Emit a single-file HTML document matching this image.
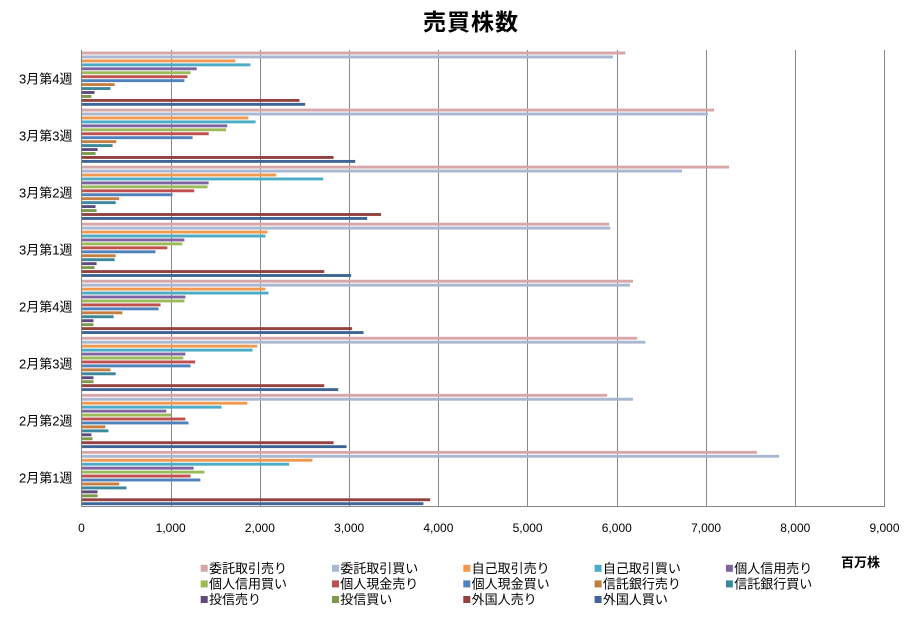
<!DOCTYPE html>
<html><head><meta charset="utf-8"><style>
html,body{margin:0;padding:0;background:#fff;}
svg{display:block;}
text{font-family:"Liberation Sans","Noto Sans CJK JP",sans-serif;fill:#000;}
.s0{fill:#D7A6A8}.s1{fill:#AAB7D1}.s2{fill:#F0994F}.s3{fill:#4BACC6}.s4{fill:#8064A2}.s5{fill:#9BBB59}.s6{fill:#C0504D}
.s7{fill:#4F81BD}.s8{fill:#C47F40}.s9{fill:#3B879C}.s10{fill:#5F4A7E}.s11{fill:#7C9A4A}.s12{fill:#944240}.s13{fill:#3E6596}
.g line{stroke:#888;stroke-width:1}
</style></head><body>
<svg width="924" height="621" viewBox="0 0 924 621" xmlns="http://www.w3.org/2000/svg">
<rect width="924" height="621" fill="#fff"/>
<text x="471" y="30" text-anchor="middle" font-size="23" font-weight="bold" letter-spacing="1">売買株数</text>
<g class="g">
<line x1="171.5" y1="50" x2="171.5" y2="507"/>
<line x1="260.5" y1="50" x2="260.5" y2="507"/>
<line x1="349.5" y1="50" x2="349.5" y2="507"/>
<line x1="438.5" y1="50" x2="438.5" y2="507"/>
<line x1="527.5" y1="50" x2="527.5" y2="507"/>
<line x1="617.5" y1="50" x2="617.5" y2="507"/>
<line x1="706.5" y1="50" x2="706.5" y2="507"/>
<line x1="795.5" y1="50" x2="795.5" y2="507"/>
<line x1="884.5" y1="50" x2="884.5" y2="507"/>
</g>
<g transform="translate(81.6,0) scale(0.08922,1)">
<g transform="translate(0,53)">
<rect class="s0" y="-1.45" height="2.9" width="6094"/><rect class="s1" y="2.5" height="2.9" width="5955"/><rect class="s2" y="6.45" height="2.9" width="1724"/><rect class="s3" y="10.4" height="2.9" width="1892"/><rect class="s4" y="14.35" height="2.9" width="1290"/><rect class="s5" y="18.3" height="2.9" width="1221"/><rect class="s6" y="22.25" height="2.9" width="1186"/><rect class="s7" y="26.2" height="2.9" width="1152"/><rect class="s8" y="30.15" height="2.9" width="370"/><rect class="s9" y="34.1" height="2.9" width="324"/><rect class="s10" y="38.05" height="2.9" width="145"/><rect class="s11" y="42" height="2.9" width="110"/><rect class="s12" y="45.95" height="2.9" width="2442"/><rect class="s13" y="49.9" height="2.9" width="2506"/>
</g>
<g transform="translate(0,110.05)">
<rect class="s0" y="-1.45" height="2.9" width="7089"/><rect class="s1" y="2.5" height="2.9" width="7020"/><rect class="s2" y="6.45" height="2.9" width="1869"/><rect class="s3" y="10.4" height="2.9" width="1950"/><rect class="s4" y="14.35" height="2.9" width="1632"/><rect class="s5" y="18.3" height="2.9" width="1620"/><rect class="s6" y="22.25" height="2.9" width="1424"/><rect class="s7" y="26.2" height="2.9" width="1244"/><rect class="s8" y="30.15" height="2.9" width="388"/><rect class="s9" y="34.1" height="2.9" width="347"/><rect class="s10" y="38.05" height="2.9" width="179"/><rect class="s11" y="42" height="2.9" width="156"/><rect class="s12" y="45.95" height="2.9" width="2824"/><rect class="s13" y="49.9" height="2.9" width="3067"/>
</g>
<g transform="translate(0,167.1)">
<rect class="s0" y="-1.45" height="2.9" width="7257"/><rect class="s1" y="2.5" height="2.9" width="6730"/><rect class="s2" y="6.45" height="2.9" width="2182"/><rect class="s3" y="10.4" height="2.9" width="2708"/><rect class="s4" y="14.35" height="2.9" width="1424"/><rect class="s5" y="18.3" height="2.9" width="1412"/><rect class="s6" y="22.25" height="2.9" width="1262"/><rect class="s7" y="26.2" height="2.9" width="1019"/><rect class="s8" y="30.15" height="2.9" width="422"/><rect class="s9" y="34.1" height="2.9" width="382"/><rect class="s10" y="38.05" height="2.9" width="156"/><rect class="s11" y="42" height="2.9" width="168"/><rect class="s12" y="45.95" height="2.9" width="3356"/><rect class="s13" y="49.9" height="2.9" width="3200"/>
</g>
<g transform="translate(0,224.15)">
<rect class="s0" y="-1.45" height="2.9" width="5914"/><rect class="s1" y="2.5" height="2.9" width="5926"/><rect class="s2" y="6.45" height="2.9" width="2083"/><rect class="s3" y="10.4" height="2.9" width="2060"/><rect class="s4" y="14.35" height="2.9" width="1152"/><rect class="s5" y="18.3" height="2.9" width="1128"/><rect class="s6" y="22.25" height="2.9" width="961"/><rect class="s7" y="26.2" height="2.9" width="828"/><rect class="s8" y="30.15" height="2.9" width="382"/><rect class="s9" y="34.1" height="2.9" width="370"/><rect class="s10" y="38.05" height="2.9" width="168"/><rect class="s11" y="42" height="2.9" width="145"/><rect class="s12" y="45.95" height="2.9" width="2720"/><rect class="s13" y="49.9" height="2.9" width="3021"/>
</g>
<g transform="translate(0,281.2)">
<rect class="s0" y="-1.45" height="2.9" width="6180"/><rect class="s1" y="2.5" height="2.9" width="6146"/><rect class="s2" y="6.45" height="2.9" width="2060"/><rect class="s3" y="10.4" height="2.9" width="2095"/><rect class="s4" y="14.35" height="2.9" width="1163"/><rect class="s5" y="18.3" height="2.9" width="1152"/><rect class="s6" y="22.25" height="2.9" width="885"/><rect class="s7" y="26.2" height="2.9" width="862"/><rect class="s8" y="30.15" height="2.9" width="457"/><rect class="s9" y="34.1" height="2.9" width="359"/><rect class="s10" y="38.05" height="2.9" width="133"/><rect class="s11" y="42" height="2.9" width="133"/><rect class="s12" y="45.95" height="2.9" width="3032"/><rect class="s13" y="49.9" height="2.9" width="3160"/>
</g>
<g transform="translate(0,338.25)">
<rect class="s0" y="-1.45" height="2.9" width="6227"/><rect class="s1" y="2.5" height="2.9" width="6319"/><rect class="s2" y="6.45" height="2.9" width="1968"/><rect class="s3" y="10.4" height="2.9" width="1916"/><rect class="s4" y="14.35" height="2.9" width="1163"/><rect class="s5" y="18.3" height="2.9" width="1140"/><rect class="s6" y="22.25" height="2.9" width="1273"/><rect class="s7" y="26.2" height="2.9" width="1221"/><rect class="s8" y="30.15" height="2.9" width="324"/><rect class="s9" y="34.1" height="2.9" width="382"/><rect class="s10" y="38.05" height="2.9" width="133"/><rect class="s11" y="42" height="2.9" width="133"/><rect class="s12" y="45.95" height="2.9" width="2720"/><rect class="s13" y="49.9" height="2.9" width="2876"/>
</g>
<g transform="translate(0,395.3)">
<rect class="s0" y="-1.45" height="2.9" width="5891"/><rect class="s1" y="2.5" height="2.9" width="6180"/><rect class="s2" y="6.45" height="2.9" width="1858"/><rect class="s3" y="10.4" height="2.9" width="1568"/><rect class="s4" y="14.35" height="2.9" width="949"/><rect class="s5" y="18.3" height="2.9" width="1001"/><rect class="s6" y="22.25" height="2.9" width="1163"/><rect class="s7" y="26.2" height="2.9" width="1198"/><rect class="s8" y="30.15" height="2.9" width="266"/><rect class="s9" y="34.1" height="2.9" width="301"/><rect class="s10" y="38.05" height="2.9" width="110"/><rect class="s11" y="42" height="2.9" width="122"/><rect class="s12" y="45.95" height="2.9" width="2824"/><rect class="s13" y="49.9" height="2.9" width="2969"/>
</g>
<g transform="translate(0,452.35)">
<rect class="s0" y="-1.45" height="2.9" width="7569"/><rect class="s1" y="2.5" height="2.9" width="7818"/><rect class="s2" y="6.45" height="2.9" width="2587"/><rect class="s3" y="10.4" height="2.9" width="2326"/><rect class="s4" y="14.35" height="2.9" width="1256"/><rect class="s5" y="18.3" height="2.9" width="1377"/><rect class="s6" y="22.25" height="2.9" width="1221"/><rect class="s7" y="26.2" height="2.9" width="1331"/><rect class="s8" y="30.15" height="2.9" width="422"/><rect class="s9" y="34.1" height="2.9" width="503"/><rect class="s10" y="38.05" height="2.9" width="179"/><rect class="s11" y="42" height="2.9" width="179"/><rect class="s12" y="45.95" height="2.9" width="3906"/><rect class="s13" y="49.9" height="2.9" width="3831"/>
</g>
</g>
<line x1="81.5" y1="50" x2="81.5" y2="507" stroke="#868686" stroke-width="1"/>
<line x1="81" y1="506.5" x2="885" y2="506.5" stroke="#868686" stroke-width="1"/>
<g font-size="13" text-anchor="end">
<text x="72.5" y="83.3">3月第4週</text>
<text x="72.5" y="140.3">3月第3週</text>
<text x="72.5" y="197.4">3月第2週</text>
<text x="72.5" y="254.4">3月第1週</text>
<text x="72.5" y="311.5">2月第4週</text>
<text x="72.5" y="368.5">2月第3週</text>
<text x="72.5" y="425.6">2月第2週</text>
<text x="72.5" y="482.6">2月第1週</text>
</g>
<g font-size="12" text-anchor="middle">
<text x="81.5" y="532">0</text>
<text x="170.7" y="532">1,000</text>
<text x="259.9" y="532">2,000</text>
<text x="349.2" y="532">3,000</text>
<text x="438.4" y="532">4,000</text>
<text x="527.6" y="532">5,000</text>
<text x="616.8" y="532">6,000</text>
<text x="706.1" y="532">7,000</text>
<text x="795.3" y="532">8,000</text>
<text x="884.5" y="532">9,000</text>
</g>
<text x="860.5" y="567" font-size="13" font-weight="bold" text-anchor="middle">百万株</text>
<g font-size="13">
<rect class="s0" x="200.7" y="564.8" width="7" height="7"/><text x="209" y="572.8">委託取引売り</text>
<rect class="s1" x="332" y="564.8" width="7" height="7"/><text x="340.3" y="572.8">委託取引買い</text>
<rect class="s2" x="463.3" y="564.8" width="7" height="7"/><text x="471.6" y="572.8">自己取引売り</text>
<rect class="s3" x="594.6" y="564.8" width="7" height="7"/><text x="602.9" y="572.8">自己取引買い</text>
<rect class="s4" x="725.9" y="564.8" width="7" height="7"/><text x="734.2" y="572.8">個人信用売り</text>
<rect class="s5" x="200.7" y="580.4" width="7" height="7"/><text x="209" y="588.4">個人信用買い</text>
<rect class="s6" x="332" y="580.4" width="7" height="7"/><text x="340.3" y="588.4">個人現金売り</text>
<rect class="s7" x="463.3" y="580.4" width="7" height="7"/><text x="471.6" y="588.4">個人現金買い</text>
<rect class="s8" x="594.6" y="580.4" width="7" height="7"/><text x="602.9" y="588.4">信託銀行売り</text>
<rect class="s9" x="725.9" y="580.4" width="7" height="7"/><text x="734.2" y="588.4">信託銀行買い</text>
<rect class="s10" x="200.7" y="596" width="7" height="7"/><text x="209" y="604">投信売り</text>
<rect class="s11" x="332" y="596" width="7" height="7"/><text x="340.3" y="604">投信買い</text>
<rect class="s12" x="463.3" y="596" width="7" height="7"/><text x="471.6" y="604">外国人売り</text>
<rect class="s13" x="594.6" y="596" width="7" height="7"/><text x="602.9" y="604">外国人買い</text>
</g>
</svg>
</body></html>
